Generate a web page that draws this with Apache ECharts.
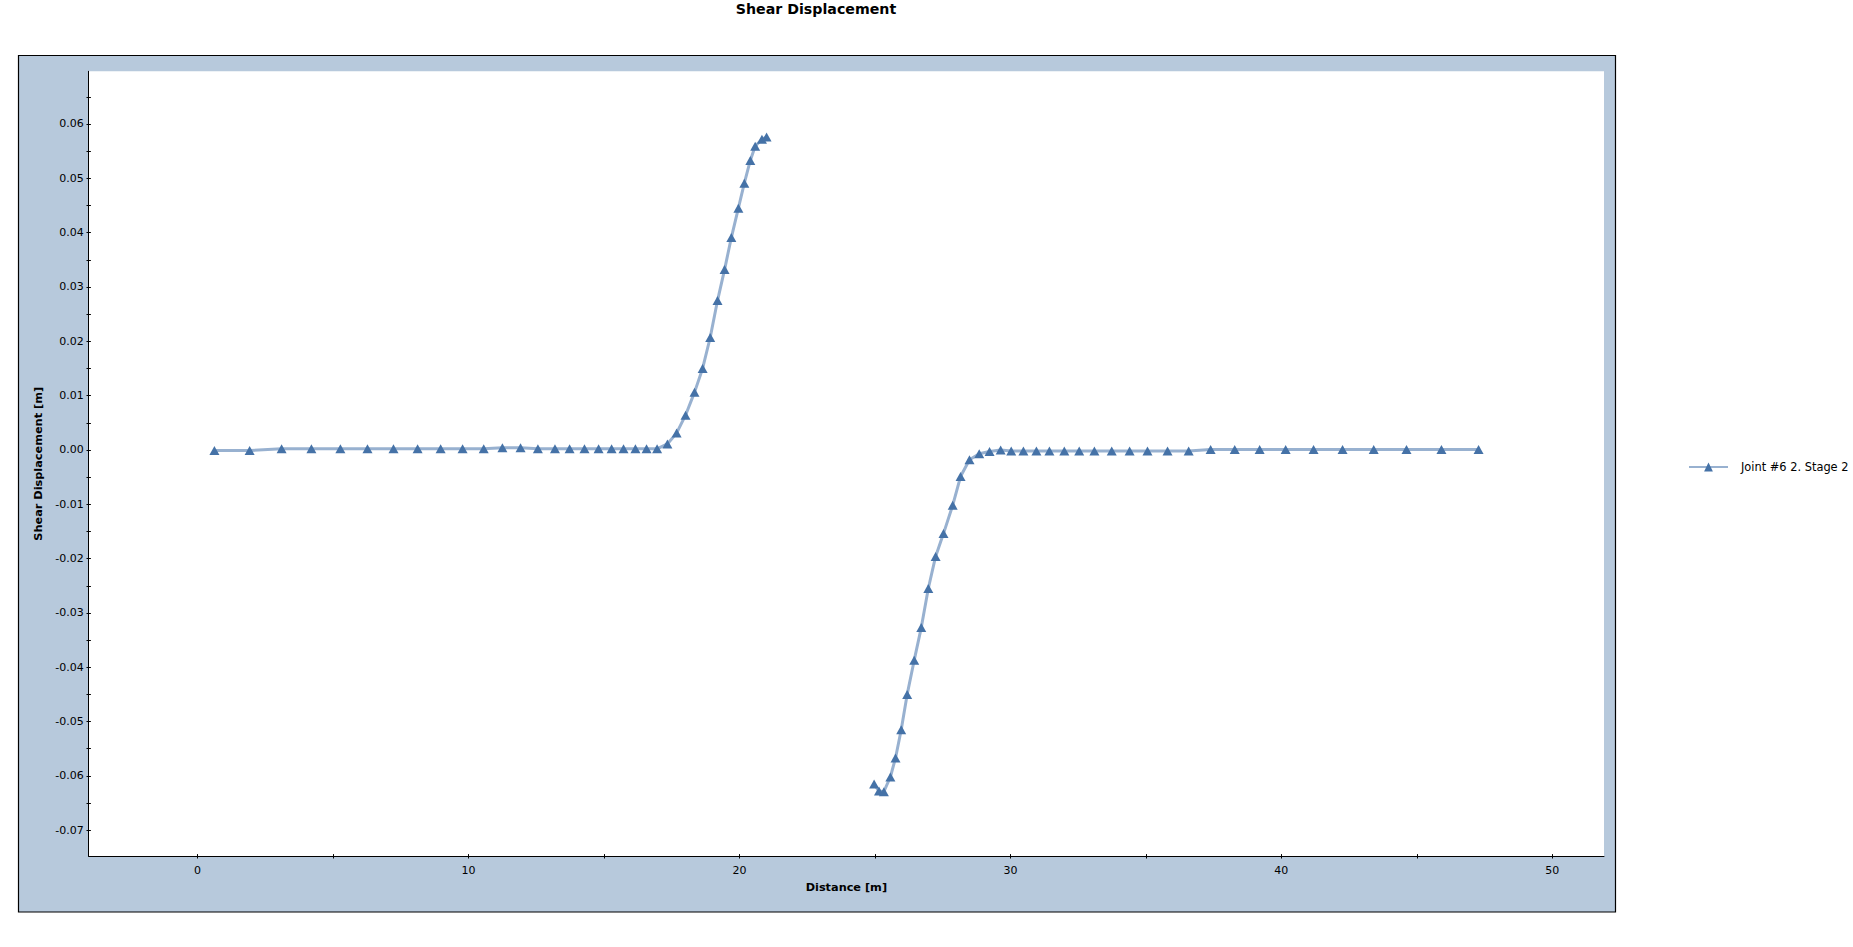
<!DOCTYPE html>
<html>
<head>
<meta charset="utf-8">
<script src="https://cdn.jsdelivr.net/npm/echarts@6/dist/echarts.min.js"></script>
<style>
html,body{margin:0;padding:0;overflow:hidden;background:#ffffff;}
#chart{width:1853px;height:947px;}
</style>
</head>
<body>
<div id="chart"></div>
<script>
const chartTitle = 'Shear Displacement';
const seriesName = 'Joint #6 2. Stage 2';
const xAxisName = 'Distance [m]';
const yAxisName = 'Shear Displacement [m]';

// Left branch of the joint
const leftX = [0.62, 1.92, 3.10, 4.20, 5.27, 6.27, 7.23, 8.12, 8.97, 9.78, 10.56, 11.25, 11.92, 12.56, 13.19, 13.73, 14.28, 14.80, 15.28, 15.72, 16.16, 16.57, 16.96, 17.34, 17.68, 18.01, 18.34, 18.64, 18.92, 19.19, 19.45, 19.70, 19.96, 20.18, 20.40, 20.58, 20.83, 21.00];
const leftY = [-0.0001, -0.0001, 0.0002, 0.0002, 0.0002, 0.0002, 0.0002, 0.0002, 0.0002, 0.0002, 0.0002, 0.0004, 0.0004, 0.0002, 0.0002, 0.0002, 0.0002, 0.0002, 0.0002, 0.0002, 0.0002, 0.0002, 0.0002, 0.0011, 0.0031, 0.0064, 0.0106, 0.0150, 0.0207, 0.0275, 0.0332, 0.0391, 0.0445, 0.0491, 0.0533, 0.0559, 0.0572, 0.0576];

// Right branch of the joint
const rightX = [24.97, 25.15, 25.33, 25.57, 25.76, 25.97, 26.19, 26.45, 26.71, 26.97, 27.24, 27.53, 27.87, 28.16, 28.49, 28.85, 29.23, 29.64, 30.03, 30.48, 30.96, 31.44, 31.99, 32.54, 33.10, 33.74, 34.40, 35.06, 35.80, 36.58, 37.39, 38.28, 39.20, 40.16, 41.19, 42.26, 43.41, 44.62, 45.91, 47.28];
const rightY = [-0.0615, -0.0628, -0.0629, -0.0602, -0.0567, -0.0515, -0.0450, -0.0387, -0.0327, -0.0255, -0.0196, -0.0154, -0.0102, -0.0049, -0.0018, -0.0007, -0.0003, 0.0000, -0.0002, -0.0002, -0.0002, -0.0002, -0.0002, -0.0002, -0.0002, -0.0002, -0.0002, -0.0002, -0.0002, -0.0002, 0.0001, 0.0001, 0.0001, 0.0001, 0.0001, 0.0001, 0.0001, 0.0001, 0.0001, 0.0001];

// Axis ticks and labels
const xTickValues = [0, 5, 10, 15, 20, 25, 30, 35, 40, 45, 50];
const xLabelValues = [0, 10, 20, 30, 40, 50];
const yTickValues = [-0.07, -0.065, -0.06, -0.055, -0.05, -0.045, -0.04, -0.035, -0.03, -0.025, -0.02, -0.015, -0.01, -0.005, 0, 0.005, 0.01, 0.015, 0.02, 0.025, 0.03, 0.035, 0.04, 0.045, 0.05, 0.055, 0.06, 0.065];
const yLabelValues = [-0.07, -0.06, -0.05, -0.04, -0.03, -0.02, -0.01, 0, 0.01, 0.02, 0.03, 0.04, 0.05, 0.06];
const xRange = [-4.02, 51.91];
const yRange = [-0.0748, 0.0697];

const FONT = 'DejaVu Sans';
const pairs = (xs, ys) => xs.map((x, i) => [x, ys[i]]);

const chart = echarts.init(document.getElementById('chart'), null, {renderer: 'svg', width: 1853, height: 947});

const lineSeries = (xs, ys) => ({
  type: 'line',
  name: seriesName,
  data: pairs(xs, ys),
  xAxisIndex: 0,
  yAxisIndex: 0,
  symbol: 'triangle',
  symbolSize: [10, 9],
  showSymbol: true,
  showAllSymbol: true,
  smooth: false,
  lineStyle: {color: '#98B1D0', width: 3},
  itemStyle: {color: '#4572A7'},
  emphasis: {disabled: true},
  animation: false,
  z: 3
});

const tickStyle = {color: '#000', width: 1};

chart.setOption({
  animation: false,
  backgroundColor: '#ffffff',
  title: {
    text: chartTitle,
    left: 816,
    top: 2,
    textAlign: 'center',
    padding: 0,
    textStyle: {fontFamily: FONT, fontWeight: 'bold', fontSize: 14.2, color: '#000'}
  },
  graphic: {
    elements: [{
      type: 'rect',
      z: -10,
      silent: true,
      shape: {x: 18.5, y: 55.5, width: 1597, height: 856.5},
      style: {fill: '#B7C9DC', stroke: '#000', lineWidth: 1.2}
    }]
  },
  legend: {
    data: [seriesName],
    orient: 'vertical',
    left: 1688,
    top: 461.5,
    padding: 0,
    itemWidth: 39,
    itemHeight: 11,
    selectedMode: false,
    textStyle: {fontFamily: FONT, fontSize: 11.4, color: '#000', padding: [0, 0, 0, 8]}
  },
  grid: {
    left: 88.7,
    right: 249,
    top: 71.3,
    bottom: 90.7,
    show: true,
    backgroundColor: '#ffffff',
    borderWidth: 0,
    containLabel: false
  },
  xAxis: [{
    type: 'value',
    min: xRange[0],
    max: xRange[1],
    position: 'bottom',
    name: xAxisName,
    nameLocation: 'middle',
    nameGap: 26,
    nameTextStyle: {fontFamily: FONT, fontWeight: 'bold', fontSize: 11.3, color: '#000'},
    axisLine: {show: true, onZero: false, lineStyle: {color: '#000', width: 1}},
    axisTick: {show: true, inside: false, length: 2.2, customValues: xTickValues, lineStyle: tickStyle},
    axisLabel: {show: true, margin: 9, customValues: xLabelValues, fontFamily: FONT, fontSize: 11, color: '#000'},
    splitLine: {show: false}
  }, {
    type: 'value',
    min: xRange[0],
    max: xRange[1],
    position: 'bottom',
    axisLine: {show: false, onZero: false},
    axisTick: {show: true, inside: true, length: 2.2, customValues: xTickValues, lineStyle: tickStyle},
    axisLabel: {show: false},
    splitLine: {show: false}
  }],
  yAxis: [{
    type: 'value',
    min: yRange[0],
    max: yRange[1],
    position: 'left',
    name: yAxisName,
    nameLocation: 'middle',
    nameGap: 40.5,
    nameTextStyle: {fontFamily: FONT, fontWeight: 'bold', fontSize: 11.3, color: '#000'},
    axisLine: {show: true, onZero: false, lineStyle: {color: '#000', width: 1}},
    axisTick: {show: true, inside: false, length: 2.2, customValues: yTickValues, lineStyle: tickStyle},
    axisLabel: {show: true, margin: 5, customValues: yLabelValues, fontFamily: FONT, fontSize: 11, color: '#000',
      formatter: (v) => Number(v).toFixed(2)},
    splitLine: {show: false}
  }, {
    type: 'value',
    min: yRange[0],
    max: yRange[1],
    position: 'left',
    axisLine: {show: false, onZero: false},
    axisTick: {show: true, inside: true, length: 2.2, customValues: yTickValues, lineStyle: tickStyle},
    axisLabel: {show: false},
    splitLine: {show: false}
  }],
  series: [lineSeries(leftX, leftY), lineSeries(rightX, rightY)]
});
</script>
</body>
</html>
